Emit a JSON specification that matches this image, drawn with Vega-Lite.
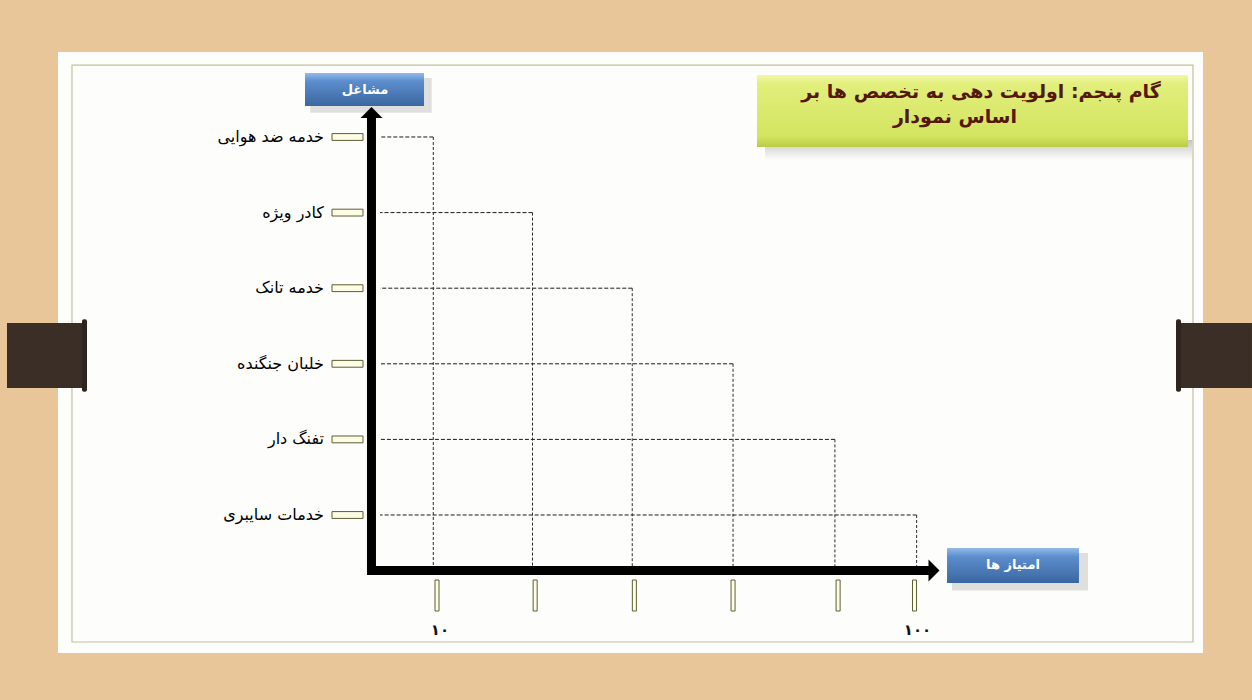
{
  "$schema": "https://vega.github.io/schema/vega-lite/v6.json",
  "width": 1145,
  "height": 601,
  "autosize": "none",
  "padding": {"left": 58, "top": 52, "right": 49, "bottom": 47},
  "background": "#e8c69a",
  "config": {"view": {"fill": "#fdfdfb", "stroke": null}, "text": {"font": "DejaVu Sans"}},
  "datasets": {
    "rows": [
      {"occupation": "خدمه ضد هوایی", "rank": 1, "score": 9.3},
      {"occupation": "کادر ویژه", "rank": 2, "score": 28},
      {"occupation": "خدمه تانک", "rank": 3, "score": 46.8},
      {"occupation": "خلبان جنگنده", "rank": 4, "score": 65.8},
      {"occupation": "تفنگ دار", "rank": 5, "score": 85},
      {"occupation": "خدمات سایبری", "rank": 6, "score": 100.4}
    ],
    "ticks": [
      {"score": 10, "label": "۱۰"},
      {"score": 28.5, "label": ""},
      {"score": 47.2, "label": ""},
      {"score": 65.8, "label": ""},
      {"score": 85.6, "label": ""},
      {"score": 100, "label": "۱۰۰"}
    ],
    "one": [{}]
  },
  "layer": [
    {
      "data": {"name": "one"},
      "mark": {"type": "rect", "fill": null, "stroke": "#c3c19c", "strokeWidth": 1.2},
      "encoding": {
        "x": {"datum": -58.8, "type": "quantitative", "scale": {"domain": [-61.434, 154.376], "nice": false, "zero": false}, "axis": null},
        "x2": {"datum": 152.49},
        "y": {"datum": 0.048, "type": "quantitative", "scale": {"domain": [-0.1243, 7.8254], "nice": false, "zero": false, "reverse": true}, "axis": null},
        "y2": {"datum": 7.68}
      }
    },
    {
      "data": {"name": "one"},
      "mark": {"type": "rect", "color": "#3b2e26"},
      "encoding": {
        "x": {"datum": -71.05, "type": "quantitative", "scale": {"domain": [-61.434, 154.376], "nice": false, "zero": false}, "axis": null},
        "x2": {"datum": -55.97},
        "y": {"datum": 3.46, "type": "quantitative", "scale": {"domain": [-0.1243, 7.8254], "nice": false, "zero": false, "reverse": true}, "axis": null},
        "y2": {"datum": 4.32}
      }
    },
    {
      "data": {"name": "one"},
      "mark": {"type": "rect", "color": "#2f241e", "cornerRadius": 2},
      "encoding": {
        "x": {"datum": -56.91, "type": "quantitative", "scale": {"domain": [-61.434, 154.376], "nice": false, "zero": false}, "axis": null},
        "x2": {"datum": -55.97},
        "y": {"datum": 3.41, "type": "quantitative", "scale": {"domain": [-0.1243, 7.8254], "nice": false, "zero": false, "reverse": true}, "axis": null},
        "y2": {"datum": 4.37}
      }
    },
    {
      "data": {"name": "one"},
      "mark": {"type": "rect", "color": "#3b2e26"},
      "encoding": {
        "x": {"datum": 149.29, "type": "quantitative", "scale": {"domain": [-61.434, 154.376], "nice": false, "zero": false}, "axis": null},
        "x2": {"datum": 163.61},
        "y": {"datum": 3.46, "type": "quantitative", "scale": {"domain": [-0.1243, 7.8254], "nice": false, "zero": false, "reverse": true}, "axis": null},
        "y2": {"datum": 4.32}
      }
    },
    {
      "data": {"name": "one"},
      "mark": {"type": "rect", "color": "#2f241e", "cornerRadius": 2},
      "encoding": {
        "x": {"datum": 149.29, "type": "quantitative", "scale": {"domain": [-61.434, 154.376], "nice": false, "zero": false}, "axis": null},
        "x2": {"datum": 150.23},
        "y": {"datum": 3.41, "type": "quantitative", "scale": {"domain": [-0.1243, 7.8254], "nice": false, "zero": false, "reverse": true}, "axis": null},
        "y2": {"datum": 4.37}
      }
    },
    {
      "data": {"name": "one"},
      "mark": {"type": "rect", "fill": {"gradient": "linear", "x1": 0, "y1": 0, "x2": 0, "y2": 1, "stops": [{"offset": 0, "color": "#b8b8b8"}, {"offset": 1, "color": "#fdfdfb"}]}, "opacity": 0.8},
      "encoding": {
        "x": {"datum": 71.82, "type": "quantitative", "scale": {"domain": [-61.434, 154.376], "nice": false, "zero": false}, "axis": null},
        "x2": {"datum": 152.3},
        "y": {"datum": 1.04, "type": "quantitative", "scale": {"domain": [-0.1243, 7.8254], "nice": false, "zero": false, "reverse": true}, "axis": null},
        "y2": {"datum": 1.304}
      }
    },
    {
      "data": {"name": "one"},
      "mark": {"type": "rect", "fill": {"gradient": "linear", "x1": 0, "y1": 0, "x2": 0, "y2": 1, "stops": [{"offset": 0, "color": "#f3f7a6"}, {"offset": 0.12, "color": "#e2ef7c"}, {"offset": 0.85, "color": "#d3e460"}, {"offset": 1, "color": "#bccb46"}]}},
      "encoding": {
        "x": {"datum": 70.31, "type": "quantitative", "scale": {"domain": [-61.434, 154.376], "nice": false, "zero": false}, "axis": null},
        "x2": {"datum": 151.55},
        "y": {"datum": 0.18, "type": "quantitative", "scale": {"domain": [-0.1243, 7.8254], "nice": false, "zero": false, "reverse": true}, "axis": null},
        "y2": {"datum": 1.132}
      }
    },
    {
      "data": {"name": "one"},
      "mark": {"type": "text", "text": "گام پنجم: اولویت دهی به تخصص  ها بر", "fontSize": 19, "fontWeight": "bold", "color": "#55170a", "align": "center", "baseline": "middle"},
      "encoding": {
        "x": {"datum": 112.53, "type": "quantitative", "scale": {"domain": [-61.434, 154.376], "nice": false, "zero": false}, "axis": null},
        "y": {"datum": 0.405, "type": "quantitative", "scale": {"domain": [-0.1243, 7.8254], "nice": false, "zero": false, "reverse": true}, "axis": null}
      }
    },
    {
      "data": {"name": "one"},
      "mark": {"type": "text", "text": "اساس نمودار", "fontSize": 19, "fontWeight": "bold", "color": "#55170a", "align": "center", "baseline": "middle"},
      "encoding": {
        "x": {"datum": 107.63, "type": "quantitative", "scale": {"domain": [-61.434, 154.376], "nice": false, "zero": false}, "axis": null},
        "y": {"datum": 0.735, "type": "quantitative", "scale": {"domain": [-0.1243, 7.8254], "nice": false, "zero": false, "reverse": true}, "axis": null}
      }
    },
    {
      "data": {"name": "one"},
      "mark": {"type": "rect", "color": "#9a9a9a", "opacity": 0.3},
      "encoding": {
        "x": {"datum": -13.9, "type": "quantitative", "scale": {"domain": [-61.434, 154.376], "nice": false, "zero": false}, "axis": null},
        "x2": {"datum": 9.0},
        "y": {"datum": 0.22, "type": "quantitative", "scale": {"domain": [-0.1243, 7.8254], "nice": false, "zero": false, "reverse": true}, "axis": null},
        "y2": {"datum": 0.68}
      }
    },
    {
      "data": {"name": "one"},
      "mark": {"type": "rect", "fill": {"gradient": "linear", "x1": 0, "y1": 0, "x2": 0, "y2": 1, "stops": [{"offset": 0, "color": "#93bbe8"}, {"offset": 0.25, "color": "#5c8dcd"}, {"offset": 1, "color": "#3b67a0"}]}},
      "encoding": {
        "x": {"datum": -14.88, "type": "quantitative", "scale": {"domain": [-61.434, 154.376], "nice": false, "zero": false}, "axis": null},
        "x2": {"datum": 7.55},
        "y": {"datum": 0.153, "type": "quantitative", "scale": {"domain": [-0.1243, 7.8254], "nice": false, "zero": false, "reverse": true}, "axis": null},
        "y2": {"datum": 0.59}
      }
    },
    {
      "data": {"name": "one"},
      "mark": {"type": "text", "text": "مشاغل", "fontSize": 13, "fontWeight": "bold", "color": "#ffffff", "align": "center", "baseline": "middle"},
      "encoding": {
        "x": {"datum": -3.57, "type": "quantitative", "scale": {"domain": [-61.434, 154.376], "nice": false, "zero": false}, "axis": null},
        "y": {"datum": 0.378, "type": "quantitative", "scale": {"domain": [-0.1243, 7.8254], "nice": false, "zero": false, "reverse": true}, "axis": null}
      }
    },
    {
      "data": {"name": "one"},
      "mark": {"type": "rect", "color": "#9a9a9a", "opacity": 0.3},
      "encoding": {
        "x": {"datum": 107.07, "type": "quantitative", "scale": {"domain": [-61.434, 154.376], "nice": false, "zero": false}, "axis": null},
        "x2": {"datum": 132.7},
        "y": {"datum": 6.503, "type": "quantitative", "scale": {"domain": [-0.1243, 7.8254], "nice": false, "zero": false, "reverse": true}, "axis": null},
        "y2": {"datum": 7.0}
      }
    },
    {
      "data": {"name": "one"},
      "mark": {"type": "rect", "fill": {"gradient": "linear", "x1": 0, "y1": 0, "x2": 0, "y2": 1, "stops": [{"offset": 0, "color": "#93bbe8"}, {"offset": 0.25, "color": "#5c8dcd"}, {"offset": 1, "color": "#3b67a0"}]}},
      "encoding": {
        "x": {"datum": 106.13, "type": "quantitative", "scale": {"domain": [-61.434, 154.376], "nice": false, "zero": false}, "axis": null},
        "x2": {"datum": 131.0},
        "y": {"datum": 6.437, "type": "quantitative", "scale": {"domain": [-0.1243, 7.8254], "nice": false, "zero": false, "reverse": true}, "axis": null},
        "y2": {"datum": 6.899}
      }
    },
    {
      "data": {"name": "one"},
      "mark": {"type": "text", "text": "امتیاز ها", "fontSize": 13, "fontWeight": "bold", "color": "#ffffff", "align": "center", "baseline": "middle"},
      "encoding": {
        "x": {"datum": 118.56, "type": "quantitative", "scale": {"domain": [-61.434, 154.376], "nice": false, "zero": false}, "axis": null},
        "y": {"datum": 6.661, "type": "quantitative", "scale": {"domain": [-0.1243, 7.8254], "nice": false, "zero": false, "reverse": true}, "axis": null}
      }
    },
    {
      "data": {"name": "rows"},
      "mark": {"type": "rule", "color": "#1a1a1a", "strokeWidth": 1, "strokeDash": [4, 2]},
      "encoding": {
        "x": {"field": "score", "type": "quantitative", "scale": {"domain": [-61.434, 154.376], "nice": false, "zero": false}, "axis": null},
        "x2": {"datum": -0.74},
        "y": {"field": "rank", "type": "quantitative", "scale": {"domain": [-0.1243, 7.8254], "nice": false, "zero": false, "reverse": true}, "axis": null}
      }
    },
    {
      "data": {"name": "rows"},
      "mark": {"type": "rule", "color": "#2a2a2a", "strokeWidth": 1, "strokeDash": [3, 2]},
      "encoding": {
        "x": {"field": "score", "type": "quantitative", "scale": {"domain": [-61.434, 154.376], "nice": false, "zero": false}, "axis": null},
        "y": {"field": "rank", "type": "quantitative", "scale": {"domain": [-0.1243, 7.8254], "nice": false, "zero": false, "reverse": true}, "axis": null},
        "y2": {"datum": 6.675}
      }
    },
    {
      "data": {"name": "one"},
      "mark": {"type": "rule", "color": "#000000", "strokeWidth": 9, "strokeCap": "butt"},
      "encoding": {
        "x": {"datum": -2.35, "type": "quantitative", "scale": {"domain": [-61.434, 154.376], "nice": false, "zero": false}, "axis": null},
        "y": {"datum": 6.794, "type": "quantitative", "scale": {"domain": [-0.1243, 7.8254], "nice": false, "zero": false, "reverse": true}, "axis": null},
        "y2": {"datum": 0.749}
      }
    },
    {
      "data": {"name": "one"},
      "mark": {"type": "rule", "color": "#000000", "strokeWidth": 9, "strokeCap": "butt"},
      "encoding": {
        "x": {"datum": -3.19, "type": "quantitative", "scale": {"domain": [-61.434, 154.376], "nice": false, "zero": false}, "axis": null},
        "x2": {"datum": 102.73},
        "y": {"datum": 6.734, "type": "quantitative", "scale": {"domain": [-0.1243, 7.8254], "nice": false, "zero": false, "reverse": true}, "axis": null}
      }
    },
    {
      "data": {"name": "one"},
      "mark": {"type": "point", "shape": "M-1,0.5L0,-0.5L1,0.5Z", "size": 484, "filled": true, "color": "#000000", "opacity": 1},
      "encoding": {
        "x": {"datum": -2.35, "type": "quantitative", "scale": {"domain": [-61.434, 154.376], "nice": false, "zero": false}, "axis": null},
        "y": {"datum": 0.676, "type": "quantitative", "scale": {"domain": [-0.1243, 7.8254], "nice": false, "zero": false, "reverse": true}, "axis": null}
      }
    },
    {
      "data": {"name": "one"},
      "mark": {"type": "point", "shape": "M-0.5,-1L0.5,0L-0.5,1Z", "size": 484, "filled": true, "color": "#000000", "opacity": 1},
      "encoding": {
        "x": {"datum": 103.67, "type": "quantitative", "scale": {"domain": [-61.434, 154.376], "nice": false, "zero": false}, "axis": null},
        "y": {"datum": 6.734, "type": "quantitative", "scale": {"domain": [-0.1243, 7.8254], "nice": false, "zero": false, "reverse": true}, "axis": null}
      }
    },
    {
      "data": {"name": "rows"},
      "mark": {"type": "point", "shape": "M-1,-0.22L1,-0.22L1,0.22L-1,0.22Z", "size": 961, "filled": true, "fill": "#fdfde6", "stroke": "#5e5e34", "strokeWidth": 1, "opacity": 1},
      "encoding": {
        "x": {"datum": -6.87, "type": "quantitative", "scale": {"domain": [-61.434, 154.376], "nice": false, "zero": false}, "axis": null},
        "y": {"field": "rank", "type": "quantitative", "scale": {"domain": [-0.1243, 7.8254], "nice": false, "zero": false, "reverse": true}, "axis": null}
      }
    },
    {
      "data": {"name": "rows"},
      "mark": {"type": "text", "fontSize": 16, "color": "#000000", "align": "right", "baseline": "middle"},
      "encoding": {
        "x": {"datum": -11.3, "type": "quantitative", "scale": {"domain": [-61.434, 154.376], "nice": false, "zero": false}, "axis": null},
        "y": {"field": "rank", "type": "quantitative", "scale": {"domain": [-0.1243, 7.8254], "nice": false, "zero": false, "reverse": true}, "axis": null},
        "text": {"field": "occupation", "type": "nominal"}
      }
    },
    {
      "data": {"name": "ticks"},
      "mark": {"type": "point", "shape": "M-0.13,-1L0.13,-1L0.13,1L-0.13,1Z", "size": 961, "filled": true, "fill": "#fdfde6", "stroke": "#5e5e34", "strokeWidth": 1, "opacity": 1},
      "encoding": {
        "x": {"field": "score", "type": "quantitative", "scale": {"domain": [-61.434, 154.376], "nice": false, "zero": false}, "axis": null},
        "y": {"datum": 7.065, "type": "quantitative", "scale": {"domain": [-0.1243, 7.8254], "nice": false, "zero": false, "reverse": true}, "axis": null}
      }
    },
    {
      "data": {"name": "ticks"},
      "mark": {"type": "text", "fontSize": 15, "fontWeight": "bold", "color": "#111111", "align": "center", "baseline": "middle", "dx": 3},
      "encoding": {
        "x": {"field": "score", "type": "quantitative", "scale": {"domain": [-61.434, 154.376], "nice": false, "zero": false}, "axis": null},
        "y": {"datum": 7.521, "type": "quantitative", "scale": {"domain": [-0.1243, 7.8254], "nice": false, "zero": false, "reverse": true}, "axis": null},
        "text": {"field": "label", "type": "nominal"}
      }
    }
  ]
}
